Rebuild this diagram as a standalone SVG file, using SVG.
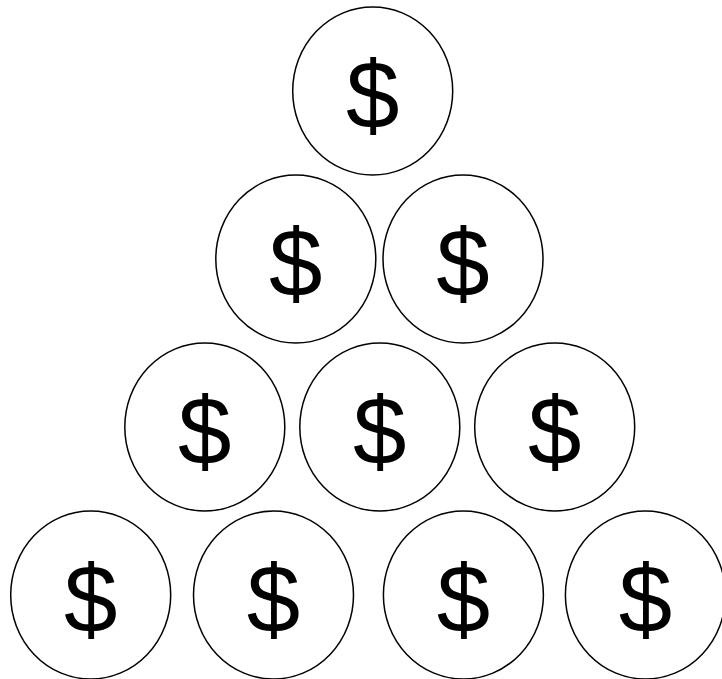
<svg xmlns="http://www.w3.org/2000/svg" width="722" height="679" viewBox="0 0 722 679">
<style>
.c{fill:#fff;stroke:#000;stroke-width:1.5}
.t{font-family:"Liberation Sans",Arial,sans-serif;font-size:96px;text-anchor:middle;fill:#000}
</style>
<rect width="722" height="679" fill="#fff"/>
<g id="coin-1"><ellipse class="c" cx="372.7" cy="91" rx="80" ry="84"/><text class="t" x="372.7" y="128">$</text></g>
<g id="coin-2"><ellipse class="c" cx="295.8" cy="259" rx="80" ry="84"/><text class="t" x="295.8" y="296">$</text></g>
<g id="coin-3"><ellipse class="c" cx="463" cy="259" rx="80" ry="84"/><text class="t" x="463" y="296">$</text></g>
<g id="coin-4"><ellipse class="c" cx="204.8" cy="427" rx="80" ry="84"/><text class="t" x="204.8" y="464">$</text></g>
<g id="coin-5"><ellipse class="c" cx="379.8" cy="427" rx="80" ry="84"/><text class="t" x="379.8" y="464">$</text></g>
<g id="coin-6"><ellipse class="c" cx="554.7" cy="427" rx="80" ry="84"/><text class="t" x="554.7" y="464">$</text></g>
<g id="coin-7"><ellipse class="c" cx="90.7" cy="595" rx="80" ry="84"/><text class="t" x="90.7" y="632">$</text></g>
<g id="coin-8"><ellipse class="c" cx="273.5" cy="595" rx="80" ry="84"/><text class="t" x="273.5" y="632">$</text></g>
<g id="coin-9"><ellipse class="c" cx="463.4" cy="595" rx="80" ry="84"/><text class="t" x="463.4" y="632">$</text></g>
<g id="coin-10"><ellipse class="c" cx="645.4" cy="595" rx="80" ry="84"/><text class="t" x="645.4" y="632">$</text></g>
<g id="connectors"></g>
</svg>
